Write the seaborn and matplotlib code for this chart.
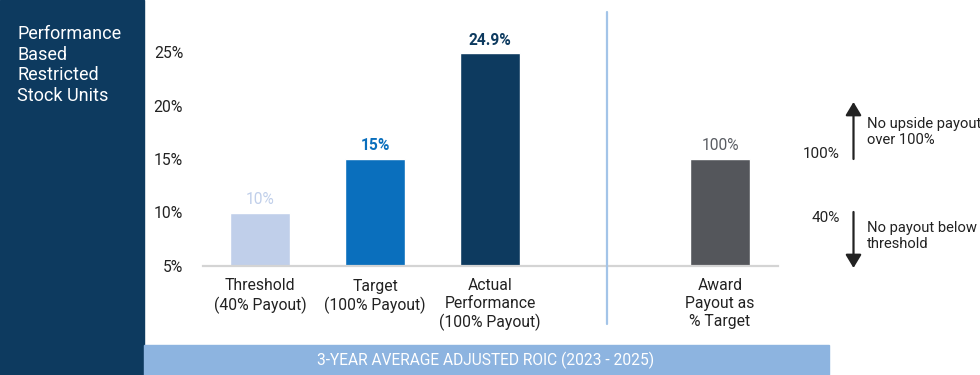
import matplotlib
matplotlib.use("Agg")
import matplotlib.pyplot as plt
import seaborn as sns
import pandas as pd
from matplotlib.patches import Rectangle, FancyArrowPatch

# ---- data ----
categories = ["Threshold\n(40% Payout)", "Target\n(100% Payout)",
              "Actual\nPerformance\n(100% Payout)", "Award\nPayout as\n% Target"]
values = [10, 15, 24.9, 15]
value_labels = ["10%", "15%", "24.9%", "100%"]
bar_colors = ["#c0cfea", "#0a6fbd", "#0d3a5f", "#54565b"]
label_colors = ["#c0cfea", "#0a6fbd", "#0d3a5f", "#5a5d63"]
label_weights = ["normal", "semibold", "semibold", "normal"]
yticks = [5, 10, 15, 20, 25]
ytick_labels = ["5%", "10%", "15%", "20%", "25%"]
panel_title = "Performance\nBased\nRestricted\nStock Units"
banner_text = "3-YEAR AVERAGE ADJUSTED ROIC (2023 - 2025)"

sns.set_theme(style="white")
plt.rcParams["font.family"] = ["Roboto", "DejaVu Sans"]

W, H = 980, 375
fig = plt.figure(figsize=(W / 100, H / 100), dpi=100)

def fx(px):
    return px / W

def fy(py):
    return 1 - py / H

TXT = "#222222"
FS = 11.3

# left dark panel
fig.patches.append(Rectangle((0, 0), fx(144), 1, transform=fig.transFigure,
                             color="#0d3a5f", zorder=0))
fig.text(fx(17), fy(25), panel_title, color="white", fontsize=13,
         va="top", ha="left", linespacing=1.18)

# bottom banner
fig.patches.append(Rectangle((fx(144), 0), fx(829) - fx(144), fy(345),
                             transform=fig.transFigure, color="#8db4e0", zorder=0))
fig.text(fx(486), fy(360), banner_text, color="white", fontsize=11.2,
         ha="center", va="center")

# main axes
base_y = 266
ppu = 10.7
ax = fig.add_axes([fx(202.5), fy(base_y), fx(777.5) - fx(202.5), base_y / H])
ax.set_facecolor("none")

df = pd.DataFrame({"cat": categories, "val": values})
order = categories[:3] + [""] + categories[3:]
palette = dict(zip(categories, bar_colors))
sns.barplot(data=df, x="cat", y="val", hue="cat", order=order, palette=palette,
            width=0.53, legend=False, saturation=1, ax=ax)

ax.set_xlim(-0.5, 4.5)
ax.set_ylim(5, 5 + base_y / ppu)
ax.set_yticks(yticks)
ax.set_yticklabels(ytick_labels)
ax.set_xlabel("")
ax.set_ylabel("")
ax.tick_params(axis="y", length=0, pad=14, labelsize=FS, labelcolor=TXT)
ax.tick_params(axis="x", length=0, pad=9, labelsize=FS, labelcolor=TXT)
for lbl in ax.get_xticklabels():
    lbl.set_linespacing(1.22)
    lbl.set_va("top")
for s in ["top", "right", "left"]:
    ax.spines[s].set_visible(False)
ax.spines["bottom"].set_color("#d4d4d4")
ax.spines["bottom"].set_linewidth(1.6)
ax.grid(False)

pos_to_idx = {0: 0, 1: 1, 2: 2, 4: 3}
for p in ax.patches:
    xc = p.get_x() + p.get_width() / 2
    k = int(round(xc))
    if k not in pos_to_idx or p.get_height() == 0:
        continue
    i = pos_to_idx[k]
    ax.annotate(value_labels[i], (xc, p.get_y() + p.get_height()),
                xytext=(0, 4), textcoords="offset points", ha="center", va="bottom",
                fontsize=11.2, color=label_colors[i], fontweight=label_weights[i])

# separator line
fig.add_artist(plt.Line2D([fx(607), fx(607)], [fy(12), fy(324)],
                          color="#a3c4e8", lw=1.6, transform=fig.transFigure))

# right annotations
fig.text(fx(840), fy(154), "100%", fontsize=11, color=TXT, ha="right", va="center")
fig.text(fx(840), fy(218), "40%", fontsize=11, color=TXT, ha="right", va="center")
for y0, y1 in [(159, 102), (212, 268)]:
    fig.patches.append(FancyArrowPatch(
        (fx(853.5), fy(y0)), (fx(853.5), fy(y1)), transform=fig.transFigure,
        arrowstyle="-|>,head_length=5,head_width=3", color=TXT, lw=1.6,
        mutation_scale=1.6, shrinkA=0, shrinkB=0))
fig.text(fx(867), fy(132), "No upside payout\nover 100%", fontsize=10.6,
         color=TXT, ha="left", va="center", linespacing=1.25)
fig.text(fx(867), fy(236), "No payout below\nthreshold", fontsize=10.6,
         color=TXT, ha="left", va="center", linespacing=1.25)

fig.savefig("out.png", dpi=100)
